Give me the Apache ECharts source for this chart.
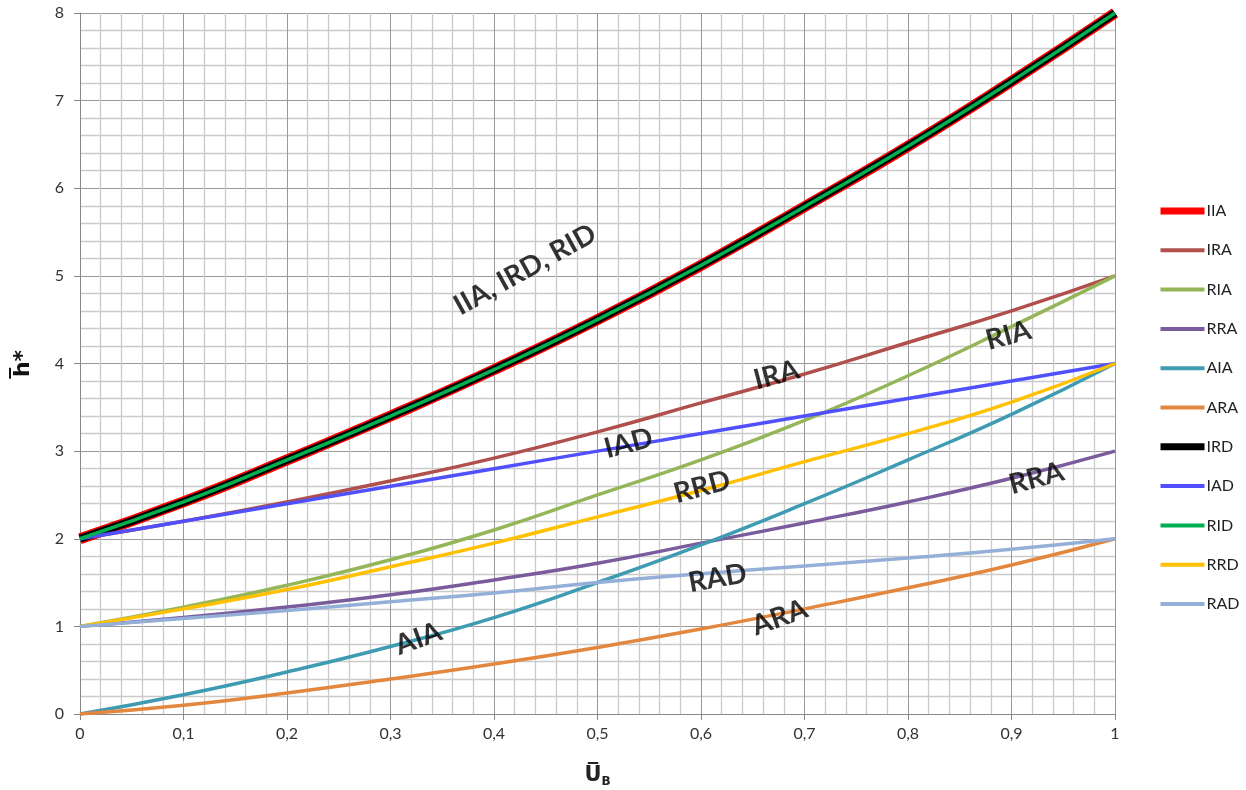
<!DOCTYPE html>
<html lang="en">
<head>
    <meta charset="UTF-8">
    <title>h* vs U_B</title>
    <style>
        * { margin: 0; padding: 0; }
        body { background: #fff; }
        #chart { width: 1246px; height: 790px; }
    </style>
</head>
<body>
    <div id="chart"></div>
</body>
</html>
<script src="https://cdn.jsdelivr.net/npm/echarts@6/dist/echarts.min.js"></script>
<script>
    // x values (U_B)
    const xs = [0, 0.1, 0.2, 0.3, 0.4, 0.5, 0.6, 0.7, 0.8, 0.9, 1];

    // curves
    const IIA = [2.0, 2.42, 2.9, 3.4, 3.93, 4.5, 5.12, 5.79, 6.48, 7.22, 8.0];
    const IRA = [2.0, 2.2, 2.42, 2.66, 2.92, 3.22, 3.55, 3.88, 4.24, 4.6, 5.0];
    const RIA = [1.0, 1.22, 1.47, 1.76, 2.1, 2.5, 2.9, 3.35, 3.86, 4.42, 5.0];
    const RRA = [1.0, 1.1, 1.22, 1.36, 1.53, 1.72, 1.95, 2.18, 2.42, 2.69, 3.0];
    const AIA = [0, 0.22, 0.48, 0.77, 1.1, 1.5, 1.93, 2.4, 2.9, 3.42, 4.0];
    const ARA = [0, 0.1, 0.24, 0.4, 0.57, 0.76, 0.97, 1.2, 1.44, 1.7, 2.0];
    const IRD = IIA.slice();
    const IAD = [2.0, 2.2, 2.4, 2.6, 2.8, 3.0, 3.2, 3.4, 3.6, 3.8, 4.0];
    const RID = IIA.slice();
    const RRD = [1.0, 1.2, 1.42, 1.68, 1.95, 2.25, 2.55, 2.88, 3.2, 3.56, 4.0];
    const RAD = [1.0, 1.09, 1.18, 1.28, 1.38, 1.5, 1.6, 1.69, 1.78, 1.88, 2.0];

    const names = ['IIA', 'IRA', 'RIA', 'RRA', 'AIA', 'ARA', 'IRD', 'IAD', 'RID', 'RRD', 'RAD'];
    const values = [IIA, IRA, RIA, RRA, AIA, ARA, IRD, IAD, RID, RRD, RAD];
    const colors = ['#ff0000', '#b0504d', '#94b659', '#7a5c9c', '#3f9bb2', '#e3873e',
                    '#000000', '#5050ff', '#00b050', '#ffc000', '#95b0d8'];
    const widths = [11, 3.5, 3.5, 3.5, 3.5, 3.5, 8, 3.5, 3.5, 3.5, 3.5];
    const legendWidths = [7, 4, 4, 4, 4, 4, 7, 4, 4, 4, 4];

    // curve labels written inside the plot
    const annoText = ['IIA, IRD, RID', 'IRA', 'RIA', 'IAD', 'RRD', 'RRA', 'RAD', 'AIA', 'ARA'];
    const annoX = [0.43, 0.673, 0.897, 0.53, 0.601, 0.924, 0.616, 0.327, 0.676];
    const annoY = [5.07, 3.87, 4.32, 3.09, 2.59, 2.69, 1.55, 0.86, 1.1];
    const annoAngle = [29, 15, 15, 15, 15, 15, 10, 20, 20];

    var myChart = echarts.init(document.getElementById('chart'));

    var series = names.map((n, i) => ({
        name: n,
        type: 'line',
        smooth: true,
        symbol: 'none',
        data: xs.map((x, k) => [x, values[i][k]]),
        lineStyle: { color: colors[i], width: widths[i] },
        itemStyle: { color: colors[i] },
        z: 2 + i
    }));

    series.push({
        type: 'scatter',
        symbolSize: 0,
        silent: true,
        z: 20,
        data: annoText.map((t, i) => ({
            value: [annoX[i], annoY[i]],
            name: t,
            label: { rotate: annoAngle[i] }
        })),
        label: {
            show: true,
            position: 'inside',
            formatter: p => p.name,
            color: '#000',
            fontFamily: 'Lato',
            fontWeight: 'bold',
            fontSize: 28
        }
    });

    myChart.setOption({
        animation: false,
        textStyle: { fontFamily: 'Lato' },
        grid: { left: 80, right: 131, top: 13, bottom: 76, outerBoundsMode: 'none' },
        legend: {
            orient: 'vertical',
            left: 1152,
            top: 198,
            itemWidth: 44,
            itemHeight: 14,
            itemGap: 23.3,
            itemStyle: { opacity: 0 },
            data: names.map((n, i) => ({ name: n, lineStyle: { width: legendWidths[i] } })),
            textStyle: { fontSize: 16, color: '#222', padding: [0, 0, 0, -3] }
        },
        xAxis: {
            type: 'value',
            min: 0,
            max: 1,
            interval: 0.1,
            name: '{u|U\u0305}{b|B}',
            nameLocation: 'middle',
            nameGap: 50,
            nameTextStyle: {
                rich: {
                    u: { fontFamily: 'DejaVu Sans', fontWeight: 'bold', fontSize: 21, color: '#222' },
                    b: { fontFamily: 'DejaVu Sans', fontWeight: 'bold', fontSize: 12, color: '#222', padding: [12, 0, 0, 0] }
                }
            },
            axisLine: { lineStyle: { color: '#888', width: 1 } },
            axisTick: { show: true, length: 6, lineStyle: { color: '#888' } },
            axisLabel: {
                fontSize: 16, color: '#333', margin: 12,
                formatter: v => String(+v.toFixed(1)).replace('.', ',')
            },
            splitLine: { show: true, lineStyle: { color: '#999', width: 1 } },
            minorTick: { show: false, splitNumber: 5 },
            minorSplitLine: { show: true, lineStyle: { color: '#cacaca', width: 1.3 } }
        },
        yAxis: {
            type: 'value',
            min: 0,
            max: 8,
            interval: 1,
            name: 'h\u0305*',
            nameLocation: 'middle',
            nameRotate: 90,
            nameGap: 46,
            nameTextStyle: { fontFamily: 'DejaVu Sans', fontWeight: 'bold', fontSize: 22, color: '#111' },
            axisLine: { show: true, lineStyle: { color: '#888', width: 1 } },
            axisTick: { show: true, length: 6, lineStyle: { color: '#888' } },
            axisLabel: { fontSize: 16, color: '#333', margin: 16 },
            splitLine: { show: true, lineStyle: { color: '#999', width: 1 } },
            minorTick: { show: false, splitNumber: 5 },
            minorSplitLine: { show: true, lineStyle: { color: '#cacaca', width: 1.3 } }
        },
        series: series
    });
</script>
